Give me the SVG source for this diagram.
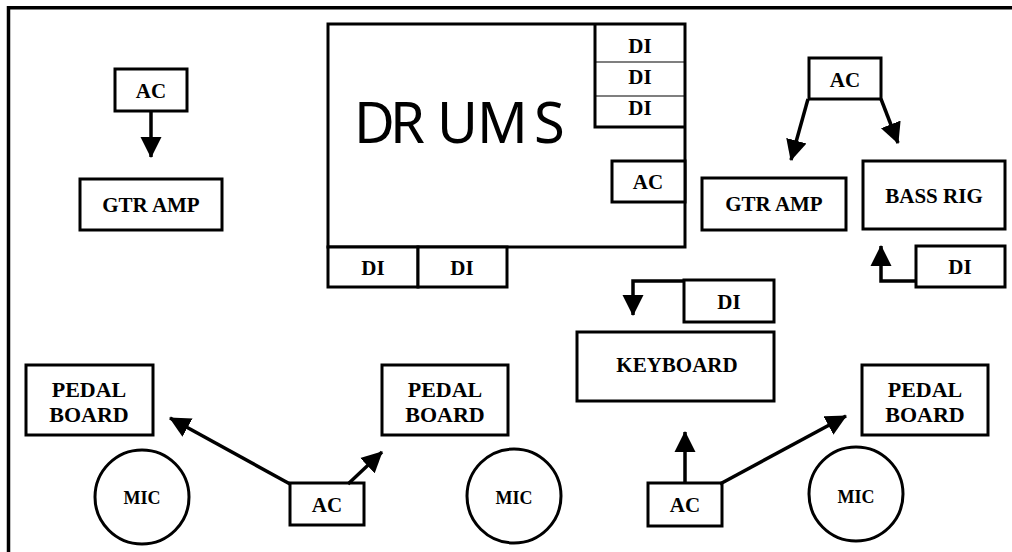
<svg xmlns="http://www.w3.org/2000/svg" width="1012" height="552" viewBox="0 0 1012 552">
<style>
.b{fill:#fff;stroke:#000;stroke-width:3}
.t{font-family:"Liberation Serif","Times New Roman",serif;font-weight:bold;font-size:21px;fill:#000;text-anchor:middle}
.p{font-size:22px}
.m{font-size:18px}
.c{fill:none;stroke:#000;stroke-width:3.5}
</style>
<defs>
<marker id="ah" markerUnits="userSpaceOnUse" markerWidth="22" markerHeight="22" refX="20" refY="10.5" orient="auto" viewBox="0 0 22 21">
<path d="M0,0 L21,10.5 L0,21 z" fill="#000"/>
</marker>
</defs>
<rect width="1012" height="552" fill="#fff"/>
<path d="M8.5,552 V7.7 H1012" fill="none" stroke="#000" stroke-width="3.5"/>

<g id="drums">
<rect class="b" x="328" y="24" width="357" height="223"/>
<text x="354 390 437 477 534" y="143" font-family="'Noto Sans',sans-serif" font-size="56" fill="#000">DRUMS</text>
</g>
<g id="drums-di-stack">
<path d="M595,24 V127 H685" fill="none" stroke="#000" stroke-width="3"/>
<path d="M595,62 H685 M595,96 H685" stroke="#000" stroke-width="1.2"/>
<text class="t" x="640" y="53">DI</text>
<text class="t" x="640" y="84">DI</text>
<text class="t" x="640" y="115">DI</text>
</g>
<g id="drums-ac"><rect class="b" x="612" y="161" width="73" height="41"/><text class="t" x="648" y="189">AC</text></g>
<g id="drums-di-1"><rect class="b" x="328" y="247" width="90" height="40"/><text class="t" x="373" y="275">DI</text></g>
<g id="drums-di-2"><rect class="b" x="418" y="247" width="89" height="40"/><text class="t" x="462" y="275">DI</text></g>

<g id="ac-left"><rect class="b" x="115" y="69" width="72" height="42"/><text class="t" x="151" y="98">AC</text></g>
<g id="gtr-amp-left"><rect class="b" x="80" y="179" width="142" height="51"/><text class="t" x="151" y="212">GTR AMP</text></g>

<g id="ac-right"><rect class="b" x="809" y="58" width="72" height="41"/><text class="t" x="845" y="87">AC</text></g>
<g id="gtr-amp-right"><rect class="b" x="702" y="178" width="144" height="52"/><text class="t" x="774" y="211">GTR AMP</text></g>
<g id="bass-rig"><rect class="b" x="863" y="161" width="142" height="68"/><text class="t" x="934" y="203">BASS RIG</text></g>
<g id="bass-di"><rect class="b" x="916" y="246" width="89" height="41"/><text class="t" x="960" y="274">DI</text></g>

<g id="keyboard-di"><rect class="b" x="684" y="280" width="90" height="42"/><text class="t" x="729" y="309">DI</text></g>
<g id="keyboard"><rect class="b" x="577" y="332" width="197" height="69"/><text class="t" x="677" y="372">KEYBOARD</text></g>

<g id="pedal-left"><rect class="b" x="26" y="365" width="127" height="70"/><text class="t p" x="89" y="397">PEDAL</text><text class="t p" x="89" y="422">BOARD</text></g>
<g id="pedal-mid"><rect class="b" x="382" y="365" width="126" height="70"/><text class="t p" x="445" y="397">PEDAL</text><text class="t p" x="445" y="422">BOARD</text></g>
<g id="pedal-right"><rect class="b" x="862" y="365" width="126" height="70"/><text class="t p" x="925" y="397">PEDAL</text><text class="t p" x="925" y="422">BOARD</text></g>

<g id="mic-left"><circle class="b" cx="142" cy="497" r="47"/><text class="t m" x="142" y="504">MIC</text></g>
<g id="mic-mid"><circle class="b" cx="514" cy="496" r="47"/><text class="t m" x="514" y="504">MIC</text></g>
<g id="mic-right"><circle class="b" cx="856" cy="494" r="47"/><text class="t m" x="856" y="503">MIC</text></g>

<g id="ac-bottom-left"><rect class="b" x="290" y="483" width="74" height="42"/><text class="t" x="327" y="512">AC</text></g>
<g id="ac-bottom-right"><rect class="b" x="648" y="483" width="74" height="43"/><text class="t" x="685" y="512">AC</text></g>

<g id="connectors">
<path class="c" d="M151,111 V157" marker-end="url(#ah)"/>
<path class="c" d="M808,99 L791,160" marker-end="url(#ah)"/>
<path class="c" d="M881,99 L898,143" marker-end="url(#ah)"/>
<path class="c" d="M916,281 H881 V246" marker-end="url(#ah)"/>
<path class="c" d="M684,281 H633 V315" marker-end="url(#ah)"/>
<path class="c" d="M290,484 L170,418" marker-end="url(#ah)"/>
<path class="c" d="M348,484 L382,452" marker-end="url(#ah)"/>
<path class="c" d="M685,483 V432" marker-end="url(#ah)"/>
<path class="c" d="M720,484 L846,416" marker-end="url(#ah)"/>
</g>
</svg>
